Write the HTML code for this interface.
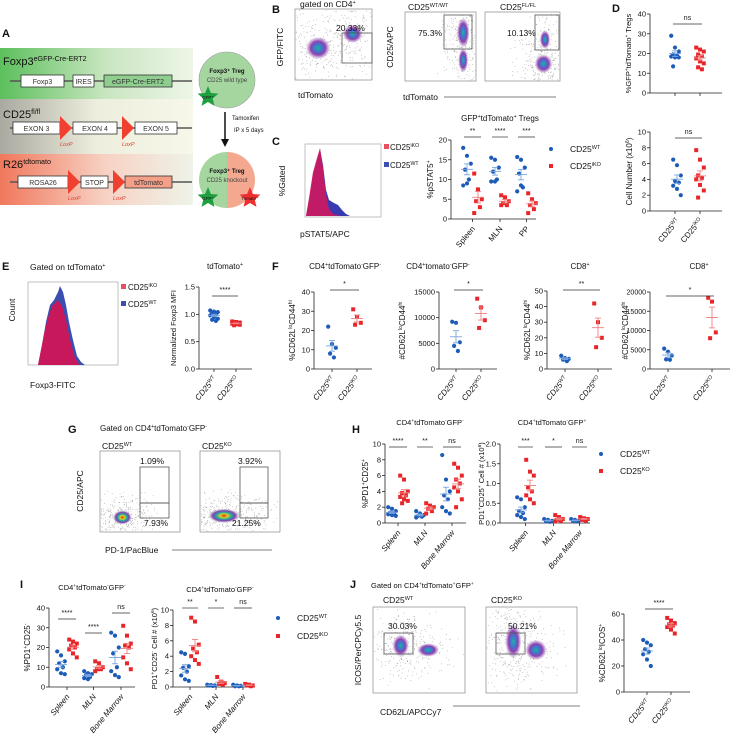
<!DOCTYPE html>
<html><head><meta charset="utf-8">
<style>
html,body{margin:0;padding:0;background:#fff;}
svg{display:block;font-family:"Liberation Sans",sans-serif;}
</style></head>
<body>
<svg id="fig" width="736" height="737" viewBox="0 0 736 737" xmlns="http://www.w3.org/2000/svg">
<defs>
<linearGradient id="gGreen" x1="0" x2="1"><stop offset="0" stop-color="#5cbf5c"/><stop offset="0.55" stop-color="#c9e6c0"/><stop offset="1" stop-color="#eef5e8"/></linearGradient>
<linearGradient id="gGray" x1="0" x2="1"><stop offset="0" stop-color="#a9a9a0"/><stop offset="0.5" stop-color="#eeeede"/><stop offset="1" stop-color="#f7f7ea"/></linearGradient>
<linearGradient id="gRed" x1="0" x2="1"><stop offset="0" stop-color="#f0785c"/><stop offset="0.55" stop-color="#f7d2c4"/><stop offset="1" stop-color="#eef3e8"/></linearGradient>
<radialGradient id="blob"><stop offset="0" stop-color="#1fb58f"/><stop offset="0.3" stop-color="#3a7bd0"/><stop offset="0.6" stop-color="#9040b0"/><stop offset="0.85" stop-color="#b080c8" stop-opacity="0.5"/><stop offset="1" stop-color="#bbb" stop-opacity="0"/></radialGradient>
<radialGradient id="blobG"><stop offset="0" stop-color="#e02020"/><stop offset="0.25" stop-color="#e0d020"/><stop offset="0.45" stop-color="#20b0a0"/><stop offset="0.7" stop-color="#8040b0"/><stop offset="1" stop-color="#aaa" stop-opacity="0"/></radialGradient>
</defs>
</svg>
<script>
// ---------------- DATA ----------------
const groupsC = ["Spleen","MLN","PP"];
const groupsH = ["Spleen","MLN","Bone Marrow"];
const genotypes2 = ["CD25{WT}","CD25{iKO}"];
const dTicks1 = [0,10,20,30,40];
const dWT1 = [29,23,21,19.5,19,18.5,18,18,13.5];
const dKO1 = [23,22,21,19.5,18.5,17.5,16,15,13,12];
const dTicks2 = [0,2,4,6,8,10];
const dWT2 = [6.5,5.8,4.5,3.8,3.6,3.2,2.8,2.0];
const dKO2 = [7.7,6.5,5.5,4.5,4.2,4.0,3.3,2.6,1.7];
const cTicks = [0,5,10,15,20];
const cWT = [[18,16,14,12.5,10,8.5,9],[15.5,15,13,12,10,9.5,9.5],[15.7,15,13,11.5,8,7,8.5]];
const cKO = [[11.5,7.5,5,4.5,3,1.5],[6,5.5,4.5,4,3.5,3.5],[6.5,5,4,3.5,2.5,1.5]];
const cSig = ["**","****","***"];
const eTicks = [0,0.5,1.0,1.5];
const eTickLabels = ["0.0","0.5","1.0","1.5"];
const eWT = [1.07,1.05,1.04,1.02,1.0,0.98,0.95,0.92,0.9,0.88];
const eKO = [0.87,0.86,0.85,0.84,0.84,0.83,0.82,0.81,0.8];
const f1Ticks = [0,10,20,30,40];
const f1WT = [22,13,11,8,6];
const f1KO = [31,27,24,23];
const f2Ticks = [0,5000,10000,15000];
const f2WT = [9200,9000,5200,4500,3500];
const f2KO = [13700,12000,9500,8000];
const f3Ticks = [0,10,20,30,40,50];
const f3WT = [8.5,7,6.5,6,5];
const f3KO = [42,30,20,14];
const f4Ticks = [0,5000,10000,15000,20000];
const f4WT = [5300,4500,3500,2500,2400];
const f4KO = [18500,17500,9500,8000];
const h1Ticks = [0,2,4,6,8,10];
const h1WT = [[2,1.8,1.5,1.3,1.2,1.1,1,0.9],[1.5,1.2,1,0.9,0.8,0.7],[8.6,5.5,4,3.5,3,2,1.5,1.2]];
const h1KO = [[6,5.5,4,3.8,3.5,3.3,3,2.8,2.5],[2.5,2.2,2,1.8,1.5,1.2],[7.5,7,6,5.5,5,4.5,4,3,2]];
const h1Sig = ["****","**","ns"];
const h2Ticks = [0,0.5,1.0,1.5,2.0];
const h2TickLabels = ["0.0","0.5","1.0","1.5","2.0"];
const h2WT = [[0.65,0.6,0.4,0.3,0.25,0.2,0.15,0.1],[0.1,0.08,0.05,0.04,0.03],[0.1,0.08,0.06,0.05,0.04]];
const h2KO = [[1.6,1.3,1.2,0.9,0.8,0.7,0.6,0.5],[0.2,0.15,0.1,0.08,0.05,0.04],[0.15,0.12,0.1,0.08,0.06]];
const h2Sig = ["***","*","ns"];
const i1Ticks = [0,10,20,30,40];
const i1WT = [[18,16,13,12,10,9,7,6.5],[8,7,6.5,6,5,4.5,4],[27.5,26,20,17,10,8,6,5]];
const i1KO = [[24,23,22,21,20,19,17,15],[13,12,10,9,9,8],[31,26,22,21,20,15,12,9]];
const i1Sig = ["****","****","ns"];
const i2Ticks = [0,2,4,6,8,10];
const i2WT = [[4.5,4.3,2.7,2.5,2,1.5,1,0.8],[0.3,0.25,0.2,0.2,0.15],[0.3,0.2,0.15,0.1,0.1]];
const i2KO = [[9,8.5,5.5,5,4.5,4,3.5,3],[1.3,0.7,0.5,0.4,0.3],[0.4,0.3,0.2,0.2,0.1]];
const i2Sig = ["**","*","ns"];
const jTicks = [0,20,40,60];
const jWT = [40,38,36,33,31,29,25,20];
const jKO = [57,55,53,52,51,50,48,45];

// ---------------- HELPERS ----------------
const NS = "http://www.w3.org/2000/svg";
const svg = document.getElementById('fig');
function mk(tag, attrs, parent){
  const e = document.createElementNS(NS, tag);
  for (const k in attrs) e.setAttribute(k, attrs[k]);
  (parent||svg).appendChild(e);
  return e;
}
function rich(x, y, str, size, opts){
  opts = opts||{};
  const t = mk('text', {x:x, y:y, 'font-size':size, fill:opts.fill||'#111', 'text-anchor':opts.anchor||'start'});
  if (opts.rot!==undefined) t.setAttribute('transform','rotate('+opts.rot+' '+x+' '+y+')');
  if (opts.italic) t.setAttribute('font-style','italic');
  if (opts.bold) t.setAttribute('font-weight','bold');
  const parts = str.split(/(\{[^}]*\})/);
  let sup=false;
  parts.forEach(p=>{
    if(!p) return;
    const s = mk('tspan',{},t);
    if(p[0]==='{'){ s.textContent=p.slice(1,-1); s.setAttribute('font-size',size*0.65); s.setAttribute('dy',-size*0.38); sup=true; }
    else { s.textContent=p; if(sup){ s.setAttribute('dy',size*0.38); sup=false; } }
  });
  
  
  return t;
}
const BLUE='#1d5bb8', RED='#e8262a', LBLUE='#7aa6e0', LRED='#f08080';
function jit(i){ return ((i*7)%5-2)*1.9; }
function drawPoints(cx, vals, yf, isKO, name){
  vals.forEach((v,i)=>{
    const px = cx + jit(i), py = yf(v);
    let m;
    if(isKO){ m = mk('rect',{x:px-2,y:py-2,width:4,height:4,fill:RED}); }
    else { m = mk('circle',{cx:px,cy:py,r:2.1,fill:BLUE}); }
    
    
  });
  const n=vals.length, mean=vals.reduce((a,b)=>a+b,0)/n;
  const sd=Math.sqrt(vals.reduce((a,b)=>a+(b-mean)*(b-mean),0)/(n-1)), sem=sd/Math.sqrt(n);
  const col = isKO?LRED:LBLUE;
  const g = mk('g',{stroke:col,'stroke-width':0.9,fill:'none'});
  
  
  mk('line',{x1:cx-6,x2:cx+6,y1:yf(mean),y2:yf(mean)},g);
  mk('line',{x1:cx,x2:cx,y1:yf(mean-sem),y2:yf(mean+sem)},g);
  mk('line',{x1:cx-3,x2:cx+3,y1:yf(mean-sem),y2:yf(mean-sem)},g);
  mk('line',{x1:cx-3,x2:cx+3,y1:yf(mean+sem),y2:yf(mean+sem)},g);
}
function yAxis(cfg){
  const yf = v => cfg.bottom - (v-cfg.ticks[0])/(cfg.ticks[cfg.ticks.length-1]-cfg.ticks[0])*(cfg.bottom-cfg.top);
  const g = mk('g',{stroke:'#222','stroke-width':0.8});
  
  
  mk('line',{x1:cfg.x,x2:cfg.x,y1:cfg.top,y2:cfg.bottom},g);
  mk('line',{x1:cfg.x,x2:cfg.xEnd,y1:cfg.bottom,y2:cfg.bottom},g);
  cfg.ticks.forEach((t,i)=>{
    mk('line',{x1:cfg.x-3,x2:cfg.x,y1:yf(t),y2:yf(t)},g);
    rich(cfg.x-4, yf(t)+2.5, cfg.labels?cfg.labels[i]:String(t), cfg.tickSize||7.5, {anchor:'end', name:'y-tick-label'});
  });
  (cfg.xs||[]).forEach(xx=>mk('line',{x1:xx,x2:xx,y1:cfg.bottom,y2:cfg.bottom+3},g));
  if(cfg.ylabel) rich(cfg.ylx, (cfg.top+cfg.bottom)/2, cfg.ylabel, cfg.ylSize||8, {anchor:'middle', rot:-90, name:'y-axis-title'});
  return yf;
}
function xLabels(xs, labels, y, italic, size){
  xs.forEach((x,i)=> rich(x+3, y, labels[i], size||8, {anchor:'end', rot:-50, italic:italic, name:'x-tick-label'}));
}
function sig(x1,x2,y,txt){
  const l = mk('line',{x1:x1,x2:x2,y1:y,y2:y,stroke:'#333','stroke-width':0.7});
  
  
  rich((x1+x2)/2, y-4, txt, 7, {anchor:'middle', name:'significance-label'});
}
function twoGroup(cfg, wt, ko){
  const yf = yAxis(cfg);
  drawPoints(cfg.wx, wt, yf, false, cfg.name+'-wt');
  drawPoints(cfg.kx, ko, yf, true, cfg.name+'-ko');
  sig(cfg.wx-2, cfg.kx+2, cfg.sigY, cfg.sig);
  xLabels([cfg.wx,cfg.kx], cfg.xl||genotypes2, cfg.bottom+10, cfg.italic, 8);
}
function multiGroup(cfg, wt, ko, sigs, groups){
  const xs=[]; cfg.gx.forEach(p=>xs.push((p[0]+p[1])/2));
  cfg.xs=xs;
  const yf = yAxis(cfg);
  cfg.gx.forEach((p,gi)=>{
    drawPoints(p[0], wt[gi], yf, false, cfg.name+'-'+groups[gi].toLowerCase().replace(' ','-')+'-wt');
    drawPoints(p[1], ko[gi], yf, true, cfg.name+'-'+groups[gi].toLowerCase().replace(' ','-')+'-ko');
    sig(p[0]-3, p[1]+3, cfg.sigY[gi], sigs[gi]);
  });
  xLabels(xs, groups, cfg.bottom+10, cfg.italic, 8);
}
function legendDots(x, y1, y2, koLabel){
  const c = mk('circle',{cx:x,cy:y1,r:2,fill:BLUE});  
  rich(x+19, y1+3, 'CD25{WT}', 8.5, {name:'legend-wt-label'});
  const r = mk('rect',{x:x-2,y:y2-2,width:4,height:4,fill:RED});  
  rich(x+19, y2+3, koLabel, 8.5, {name:'legend-ko-label'});
}
let seed=12345; function rnd(){ seed=(seed*1103515245+12345)%2147483648; return seed/2147483648; }
function gauss(){ return (rnd()+rnd()+rnd()-1.5)/0.5; }
function flow(x,y,w,h,blobs,name,colorGrad){
  const g = mk('g',{});
  
  
  mk('rect',{x:x,y:y,width:w,height:h,fill:'#fff',stroke:'#888','stroke-width':0.7},g);
  blobs.forEach(b=>{
    for(let i=0;i<b.n;i++){
      const px = x + w*(b.cx + gauss()*b.rx*1.6), py = y + h*(b.cy + gauss()*b.ry*1.6);
      if(px>x+1&&px<x+w-1&&py>y+1&&py<y+h-1) mk('circle',{cx:px,cy:py,r:0.45,fill:'#777','fill-opacity':0.6},g);
    }
    mk('ellipse',{cx:x+w*b.cx,cy:y+h*b.cy,rx:w*b.rx,ry:h*b.ry,fill:'url(#'+(colorGrad||'blob')+')'},g);
  });
  return g;
}
function gate(x,y,w,h){ const r=mk('rect',{x:x,y:y,width:w,height:h,fill:'none',stroke:'#555','stroke-width':0.8});   }
function panelLetter(x,y,l){ rich(x,y,l,11,{bold:true,name:'panel-label-'+l.toLowerCase()}); }

// ---------------- PANEL A ----------------
panelLetter(2,37,'A');
[[48,'gGreen'],[99,'gGray'],[154,'gRed']].forEach(b=>{
  const r=mk('rect',{x:0,y:b[0],width:193,height:b[0]===48?51:(b[0]===99?55:51),fill:'url(#'+b[1]+')'});
   
});
function construct(ly, boxes, tris, loxY){
  mk('line',{x1:10,x2:192,y1:ly,y2:ly,stroke:'#555','stroke-width':1.5});
  boxes.forEach(b=>{
    const r=mk('rect',{x:b[0],y:ly-6,width:b[1]-b[0],height:12,fill:b[3]||'#fff',stroke:'#333','stroke-width':0.8});
     
    rich((b[0]+b[1])/2, ly+2.8, b[2], 7, {anchor:'middle', fill:'#333', name:'gene-label'});
  });
  tris.forEach(t=>{
    const p=mk('polygon',{points:t+','+(ly-12)+' '+(t+12)+','+ly+' '+t+','+(ly+12),fill:'#ef4030'});
     
    rich(t, loxY, 'LoxP', 5.5, {italic:true, fill:'#e04030', name:'loxp-label'});
  });
}
rich(3,65,'Foxp3{eGFP-Cre-ERT2}',11,{name:'foxp3-construct-title'});
construct(81,[[21,64,'Foxp3'],[73,94,'IRES'],[104,172,'eGFP-Cre-ERT2','#8fce8f']],[],0);
rich(3,118,'CD25{fl/fl}',11,{name:'cd25-construct-title'});
construct(128,[[13,60,'EXON 3'],[73,117,'EXON 4'],[135,177,'EXON 5']],[60,122],146);
rich(3,168,'R26{tdtomato}',11,{name:'r26-construct-title'});
construct(182,[[18,68,'ROSA26'],[81,108,'STOP'],[125,172,'tdTomato','#f4a088']],[68,113],200);
function star(cx,cy,r,fill,label){
  let pts=''; for(let i=0;i<10;i++){ const a=-Math.PI/2+i*Math.PI/5, rr=i%2?r*0.45:r; pts+=(cx+rr*Math.cos(a))+','+(cy+rr*Math.sin(a))+' '; }
  const p=mk('polygon',{points:pts,fill:fill});  
  rich(cx,cy+2,label,4.5,{anchor:'middle',name:'star-label'});
}
const c1=mk('circle',{cx:227,cy:80,r:28,fill:'#a6d6a0',stroke:'#999','stroke-width':0.6});  
rich(227,73,'Foxp3⁺ Treg',6,{anchor:'middle',bold:true,name:'cell-title'});
rich(227,82,'CD25 wild type',6,{anchor:'middle',fill:'#444',name:'cell-subtitle'});
star(208,97,11,'#1ea040','GFP⁺');
mk('path',{d:'M227 152 A28 28 0 0 0 227 208 Z',fill:'#a6d6a0'});
mk('path',{d:'M227 152 A28 28 0 0 1 227 208 Z',fill:'#f4a890'});
rich(227,173,'Foxp3⁺ Treg',6,{anchor:'middle',bold:true,name:'cell-title'});
rich(227,182,'CD25 knockout',6,{anchor:'middle',fill:'#444',name:'cell-subtitle'});
star(208,198,11,'#1ea040','GFP⁺'); star(250,198,11,'#ef3030','Tomato⁺');
mk('line',{x1:225,x2:225,y1:112,y2:140,stroke:'#111','stroke-width':1.5});
mk('polygon',{points:'221,139 229,139 225,147',fill:'#111'});
rich(232,120,'Tamoxifen',6,{name:'tamoxifen-label'});
rich(234,132,'IP x 5 days',6,{name:'ip-label'});

// ---------------- PANEL B ----------------
panelLetter(272,13,'B');
rich(300,7,'gated on CD4{+}',8.5,{name:'b-gate-title'});
flow(295,9,77,71,[{cx:0.3,cy:0.55,rx:0.16,ry:0.16,n:260},{cx:0.75,cy:0.35,rx:0.13,ry:0.13,n:200}],'flow-plot-gfp');
gate(342,33,30,30); rich(336,31,'20.33%',8.5,{name:'gate-percent'});
rich(283,47,'GFP/FITC',8.5,{anchor:'middle',rot:-90,name:'y-axis-title'});
rich(298,98,'tdTomato',8.5,{name:'x-axis-title'});
rich(408,10,'CD25{WT/WT}',8.5,{name:'plot-title'});
rich(500,10,'CD25{FL/FL}',8.5,{name:'plot-title'});
flow(405,12,71,69,[{cx:0.82,cy:0.3,rx:0.09,ry:0.22,n:220},{cx:0.82,cy:0.7,rx:0.07,ry:0.18,n:120}],'flow-plot-cd25-wt');
flow(485,12,75,69,[{cx:0.78,cy:0.75,rx:0.12,ry:0.14,n:260},{cx:0.8,cy:0.4,rx:0.07,ry:0.14,n:80}],'flow-plot-cd25-fl');
gate(444,15,28,34); rich(418,36,'75.3%',8.5,{name:'gate-percent'});
gate(535,15,24,35); rich(507,36,'10.13%',8.5,{name:'gate-percent'});
rich(393,47,'CD25/APC',8.5,{anchor:'middle',rot:-90,name:'y-axis-title'});
rich(403,100,'tdTomato',8.5,{name:'x-axis-title'});
mk('line',{x1:444,x2:556,y1:97,y2:97,stroke:'#555','stroke-width':0.8});

// ---------------- PANEL C ----------------
panelLetter(272,145,'C');
(function(){
  const g=mk('g',{});  
  mk('rect',{x:305,y:144,width:76,height:73,fill:'#fff',stroke:'#999','stroke-width':0.6},g);
  mk('path',{d:'M306 216 L309 200 L313 175 L317 160 L320 149 L323 165 L326 190 L329 200 L334 203 L338 205 L342 210 L346 214 L350 216 Z',fill:'#3a3ab0'},g);
  mk('path',{d:'M306 216 L309 198 L313 172 L317 158 L320 148 L323 168 L326 195 L329 209 L333 214 L340 216 Z',fill:'#d01860','fill-opacity':0.9},g);
})();
rich(285,181,'%Gated',8.5,{anchor:'middle',rot:-90,name:'y-axis-title'});
rich(300,237,'pSTAT5/APC',8.5,{name:'x-axis-title'});
mk('rect',{x:384,y:144,width:5,height:5,fill:'#e85060'}); rich(390,150,'CD25{iKO}',8,{name:'legend-ko-label'});
mk('rect',{x:384,y:162,width:5,height:5,fill:'#3a4fb0'}); rich(390,168,'CD25{WT}',8,{name:'legend-wt-label'});
rich(500,121,'GFP{+}tdTomato{+} Tregs',8,{anchor:'middle',name:'c-title'});
multiGroup({name:'c-pstat5',x:451,xEnd:536,top:140,bottom:219,ticks:cTicks,ylabel:'%pSTAT5{+}',ylx:433,
  gx:[[467,478],[495,505],[521,532]],sigY:[137,137,137]}, cWT, cKO, cSig, groupsC);
legendDots(551,149,166,'CD25{iKO}');

// ---------------- PANEL D ----------------
panelLetter(612,12,'D');
twoGroup({name:'d-percent',x:650,xEnd:722,top:14,bottom:93,ticks:dTicks1,ylabel:'%GFP{+}tdTomato{+} Tregs',ylx:631,ylSize:7.5,
  xs:[675,700],wx:675,kx:700,sigY:24,sig:'ns',xl:['','']}, dWT1, dKO1);
twoGroup({name:'d-number',x:650,xEnd:722,top:132,bottom:211,ticks:dTicks2,ylabel:'Cell Number (x10{6})',ylx:632,
  xs:[675,700],wx:677,kx:700,sigY:138,sig:'ns'}, dWT2, dKO2);

// ---------------- PANEL E ----------------
panelLetter(2,270,'E');
rich(30,270,'Gated on tdTomato{+}',8.5,{name:'e-gate-title'});
(function(){
  const g=mk('g',{});  
  mk('rect',{x:28,y:282,width:90,height:83,fill:'#fff',stroke:'#999','stroke-width':0.6},g);
  mk('path',{d:'M38 365 L42 345 L46 322 L50 305 L54 300 L58 292 L60 286 L63 292 L66 305 L69 322 L73 340 L77 356 L81 362 L85 365 Z',fill:'#3a4fb0'},g);
  mk('path',{d:'M38 365 L41 350 L44 334 L48 318 L52 306 L56 302 L58 300 L62 306 L66 320 L70 340 L74 355 L78 363 L80 365 Z',fill:'#c8185c'},g);
})();
rich(15,310,'Count',8.5,{anchor:'middle',rot:-90,name:'y-axis-title'});
rich(30,388,'Foxp3-FITC',8.5,{name:'x-axis-title'});
mk('rect',{x:121,y:284,width:5,height:5,fill:'#e85060'}); rich(128,290,'CD25{iKO}',8,{name:'legend-ko-label'});
mk('rect',{x:121,y:301,width:5,height:5,fill:'#3a4fb0'}); rich(128,307,'CD25{WT}',8,{name:'legend-wt-label'});
rich(225,269,'tdTomato{+}',8,{anchor:'middle',name:'e-title'});
twoGroup({name:'e-mfi',x:199,xEnd:252,top:287,bottom:369,ticks:eTicks,labels:eTickLabels,ylabel:'Normalized Foxp3 MFI',ylx:176,ylSize:7.5,
  xs:[214,236],wx:214,kx:236,sigY:296,sig:'****',italic:true}, eWT, eKO);

// ---------------- PANEL F ----------------
panelLetter(272,270,'F');
rich(345,269,'CD4{+}tdTomato{-}GFP{-}',8,{anchor:'middle',name:'f1-title'});
rich(438,269,'CD4{+}tomato{-}GFP{-}',8,{anchor:'middle',name:'f2-title'});
rich(580,269,'CD8{+}',8,{anchor:'middle',name:'f3-title'});
rich(699,269,'CD8{+}',8,{anchor:'middle',name:'f4-title'});
twoGroup({name:'f1',x:314,xEnd:372,top:292,bottom:369,ticks:f1Ticks,ylabel:'%CD62L{lo}CD44{hi}',ylx:295,
  xs:[332,357],wx:332,kx:357,sigY:290,sig:'*',italic:true}, f1WT, f1KO);
twoGroup({name:'f2',x:439,xEnd:497,top:292,bottom:369,ticks:f2Ticks,ylabel:'#CD62L{lo}CD44{hi}',ylx:405,
  xs:[456,481],wx:456,kx:481,sigY:290,sig:'*',italic:true}, f2WT, f2KO);
twoGroup({name:'f3',x:547,xEnd:612,top:291,bottom:369,ticks:f3Ticks,ylabel:'%CD62L{lo}CD44{hi}',ylx:530,
  xs:[565,598],wx:565,kx:598,sigY:290,sig:'**',italic:true}, f3WT, f3KO);
twoGroup({name:'f4',x:650,xEnd:730,top:292,bottom:369,ticks:f4Ticks,ylabel:'#CD62L{lo}CD44{hi}',ylx:628,tickSize:7,
  xs:[668,712],wx:668,kx:712,sigY:296,sig:'*',italic:true}, f4WT, f4KO);

// ---------------- PANEL G ----------------
panelLetter(68,433,'G');
rich(100,431,'Gated on CD4{+}tdTomato{-}GFP{-}',8,{name:'g-gate-title'});
rich(102,449,'CD25{WT}',8.5,{name:'plot-title'});
rich(202,449,'CD25{KO}',8.5,{name:'plot-title'});
flow(100,451,80,81,[{cx:0.28,cy:0.82,rx:0.12,ry:0.09,n:350}],'flow-plot-g-wt','blobG');
flow(200,451,80,81,[{cx:0.3,cy:0.8,rx:0.2,ry:0.09,n:420}],'flow-plot-g-ko','blobG');
gate(140,467,29,36); gate(140,503,29,15);
gate(240,467,28,36); gate(240,503,28,15);
rich(140,464,'1.09%',8.5,{name:'gate-percent'});
rich(144,526,'7.93%',8.5,{name:'gate-percent'});
rich(238,464,'3.92%',8.5,{name:'gate-percent'});
rich(232,526,'21.25%',8.5,{name:'gate-percent'});
rich(83,491,'CD25/APC',8.5,{anchor:'middle',rot:-90,name:'y-axis-title'});
rich(105,553,'PD-1/PacBlue',8.5,{name:'x-axis-title'});
mk('line',{x1:172,x2:272,y1:550,y2:550,stroke:'#555','stroke-width':0.8});

// ---------------- PANEL H ----------------
panelLetter(352,433,'H');
rich(430,425,'CD4{+}tdTomato{-}GFP{-}',7.5,{anchor:'middle',name:'h1-title'});
rich(552,425,'CD4{+}tdTomato{-}GFP{+}',7.5,{anchor:'middle',name:'h2-title'});
multiGroup({name:'h1',x:385,xEnd:466,top:444,bottom:523,ticks:h1Ticks,ylabel:'%PD1{+}CD25{+}',ylx:368,italic:true,
  gx:[[392,404],[420,430],[446,458]],sigY:[447,447,447]}, h1WT, h1KO, h1Sig, groupsH);
multiGroup({name:'h2',x:500,xEnd:590,top:444,bottom:523,ticks:h2Ticks,labels:h2TickLabels,ylabel:'PD1{+}CD25{+} Cell # (x10{6})',ylx:484,ylSize:7.5,italic:true,
  gx:[[521,530],[548,559],[575,584]],sigY:[447,447,447]}, h2WT, h2KO, h2Sig, groupsH);
legendDots(601,454,471,'CD25{KO}');

// ---------------- PANEL I ----------------
panelLetter(20,588,'I');
rich(92,590,'CD4{+}tdTomato{-}GFP{-}',7.5,{anchor:'middle',name:'i1-title'});
rich(220,592,'CD4{+}tdTomato{-}GFP{-}',7.5,{anchor:'middle',name:'i2-title'});
multiGroup({name:'i1',x:49,xEnd:135,top:608,bottom:687,ticks:i1Ticks,ylabel:'%PD1{+}CD25{-}',ylx:30,italic:true,
  gx:[[61,73],[88,99],[115,127]],sigY:[619,633,613]}, i1WT, i1KO, i1Sig, groupsH);
multiGroup({name:'i2',x:173,xEnd:255,top:610,bottom:687,ticks:i2Ticks,ylabel:'PD1{+}CD25{-} Cell # (x10{6})',ylx:157,ylSize:7.5,italic:true,
  gx:[[185,195],[211,221],[237,249]],sigY:[608,608,608]}, i2WT, i2KO, i2Sig, groupsH);
legendDots(278,618,636,'CD25{iKO}');

// ---------------- PANEL J ----------------
panelLetter(350,588,'J');
rich(371,588,'Gated on CD4{+}tdTomato{+}GFP{+}',7.5,{name:'j-gate-title'});
rich(383,603,'CD25{WT}',8.5,{name:'plot-title'});
rich(491,603,'CD25{iKO}',8.5,{name:'plot-title'});
flow(373,607,92,86,[{cx:0.3,cy:0.45,rx:0.09,ry:0.13,n:260},{cx:0.6,cy:0.5,rx:0.12,ry:0.08,n:80}],'flow-plot-j-wt');
flow(486,607,91,86,[{cx:0.3,cy:0.4,rx:0.09,ry:0.2,n:320},{cx:0.55,cy:0.5,rx:0.12,ry:0.12,n:80}],'flow-plot-j-ko');
gate(384,633,29,21); gate(496,633,29,21);
rich(388,629,'30.03%',8.5,{name:'gate-percent'});
rich(508,629,'50.21%',8.5,{name:'gate-percent'});
rich(361,650,'ICOS/PerCPCy5.5',8.5,{anchor:'middle',rot:-90,name:'y-axis-title'});
rich(380,715,'CD62L/APCCy7',8.5,{name:'x-axis-title'});
mk('line',{x1:453,x2:580,y1:706,y2:706,stroke:'#555','stroke-width':0.8});
twoGroup({name:'j',x:624,xEnd:690,top:614,bottom:692,ticks:jTicks,ylabel:'%CD62L{lo}ICOS{+}',ylx:605,
  xs:[647,671],wx:647,kx:671,sigY:609,sig:'****',italic:true}, jWT, jKO);
</script>
</body></html>
